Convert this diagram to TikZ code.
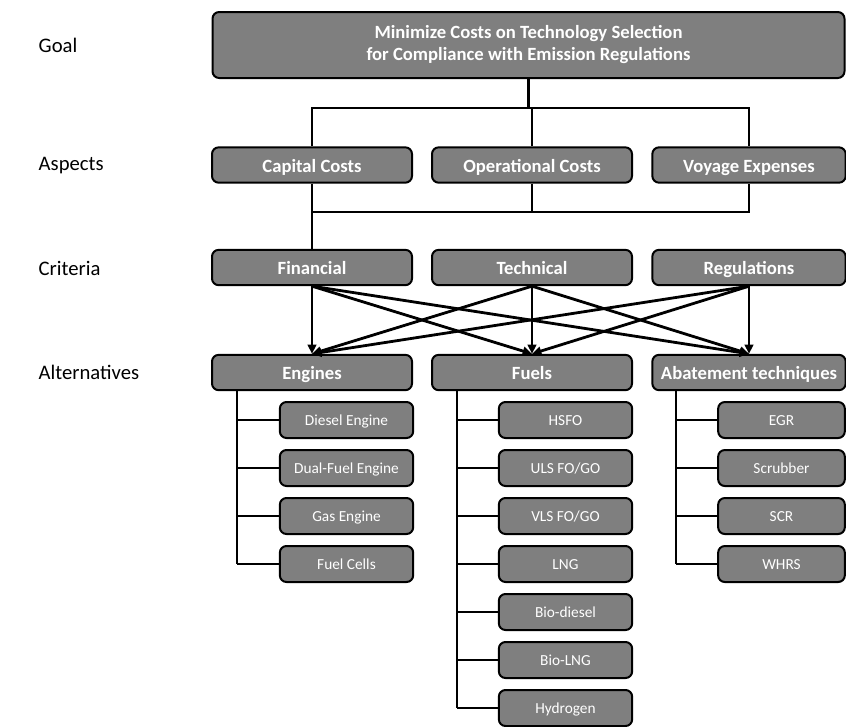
\documentclass[tikz,border=0pt]{standalone}
\usepackage{fontspec}
\setmainfont{Carlito}
\definecolor{boxGray}{HTML}{7F7F7F}
\usepackage{tikz}
\usetikzlibrary{positioning,arrows.meta}

\begin{document}
\begin{tikzpicture}[x=0.75pt, y=-0.75pt,
  mainbox/.style={draw=black, line width=1.5pt, fill=boxGray, rounded corners=5pt, text=white, font=\fontsize{14}{16.5}\selectfont\bfseries, align=center, inner sep=0pt, minimum height=26.5pt, text height=2.3ex, text depth=0.1ex},
  subbox/.style={draw=black, line width=1.5pt, fill=boxGray, rounded corners=5pt, text=white, font=\fontsize{11.5}{13}\selectfont, inner sep=0pt, minimum height=27pt, minimum width=100pt, text height=2.0ex, text depth=0.15ex},
  lvl/.style={anchor=west, font=\fontsize{15.5}{18}\selectfont},
  link/.style={line width=2.1pt},
  arr/.style={line width=2.1pt, -{Triangle[length=7pt, width=6.5pt]}}]
\useasboundingbox (0,0) rectangle (846,726);

\node[lvl] (lgoal) at (34,45) {Goal};
\node[lvl] (lasp) at (34,166) {Aspects};
\node[lvl] (lcrit) at (34,268) {Criteria};
\node[lvl] (lalt) at (34,372) {Alternatives};

\node[mainbox, minimum width=474pt, minimum height=49.5pt, text height=, text depth=] (goal) at (528.5,45) {Minimize Costs on Technology Selection\\for Compliance with Emission Regulations};

\node[mainbox, minimum width=150pt] (capital) at (312,165) {Capital Costs};
\node[mainbox, minimum width=150pt] (operational) at (532,165) {Operational Costs};
\node[mainbox, minimum width=145pt] (voyage) at (749,165) {Voyage Expenses};

\node[mainbox, minimum width=150pt] (financial) at (312,267.5) {Financial};
\node[mainbox, minimum width=150pt] (technical) at (532,267.5) {Technical};
\node[mainbox, minimum width=145pt] (regulations) at (749,267.5) {Regulations};

\node[mainbox, minimum width=150pt] (engines) at (312,372.5) {Engines};
\node[mainbox, minimum width=150pt] (fuels) at (532,372.5) {Fuels};
\node[mainbox, minimum width=145pt] (abatement) at (749,372.5) {Abatement techniques};

\coordinate (bartop) at (0,108);
\coordinate (barmid) at (0,212);
\draw[link] (goal.south) -- (goal.south |- bartop);
\draw[link] (capital.north) |- (voyage.north |- bartop) -- (voyage.north);
\draw[link] (operational.north) -- (operational.north |- bartop);
\draw[link] (capital.south) |- (voyage.south |- barmid) -- (voyage.south);
\draw[link] (operational.south) -- (operational.south |- barmid);
\draw[link] (capital.south |- barmid) -- (financial.north);

\foreach \from in {financial, technical, regulations}
  \foreach \to in {engines, fuels, abatement}
    \draw[arr] (\from.south) -- (\to.north);

\coordinate (etrunk) at (237,390);
\coordinate (ftrunk) at (457,390);
\coordinate (atrunk) at (676,390);

\foreach \txt [count=\i] in {Diesel Engine, Dual-Fuel Engine, Gas Engine, Fuel Cells} {
  \node[subbox] (eng\i) at ({346.5},{420+48*(\i-1)}) {\txt};
  \draw[link] (eng\i.west) -- (eng\i.west -| etrunk);
}
\draw[link] (etrunk) -- (etrunk |- eng4.west);

\foreach \txt [count=\i] in {HSFO, ULS FO/GO, VLS FO/GO, LNG, Bio-diesel, Bio-LNG, Hydrogen} {
  \node[subbox] (fuel\i) at ({565.5},{420+48*(\i-1)}) {\txt};
  \draw[link] (fuel\i.west) -- (fuel\i.west -| ftrunk);
}
\draw[link] (ftrunk) -- (ftrunk |- fuel7.west);

\foreach \txt [count=\i] in {EGR, Scrubber, SCR, WHRS} {
  \node[subbox, minimum width=95pt] (abt\i) at ({781.5},{420+48*(\i-1)}) {\txt};
  \draw[link] (abt\i.west) -- (abt\i.west -| atrunk);
}
\draw[link] (atrunk) -- (atrunk |- abt4.west);
\end{tikzpicture}
\end{document}
